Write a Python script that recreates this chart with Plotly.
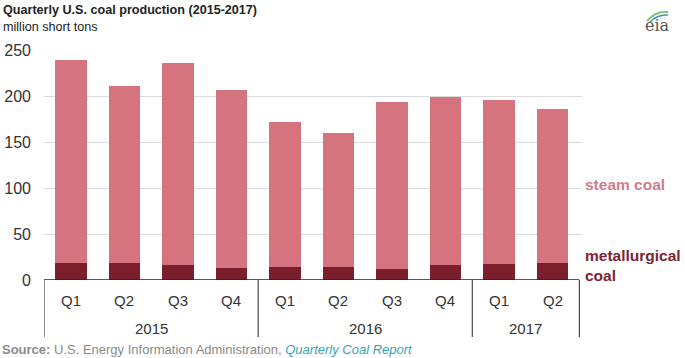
import plotly.graph_objects as go

quarters = ["Q1", "Q2", "Q3", "Q4", "Q1", "Q2", "Q3", "Q4", "Q1", "Q2"]
years = ["2015", "2016", "2017"]
year_counts = [4, 4, 2]
metallurgical = [18, 18, 16, 13, 14, 14, 12, 16, 17, 18]
steam = [221, 193, 220, 193, 158, 146, 182, 183, 179, 168]
y_ticks = [0, 50, 100, 150, 200, 250]

STEAM_C = "#d5737f"
MET_C = "#7c1f2d"
FONT = "Liberation Sans, Arial, sans-serif"

L, R, T, B = 44, 103, 50, 78
W, H = 685, 358
PW, PH = W - L - R, H - T - B

def px(x):
    return (x - L) / PW

def py(y):
    return (H - B - y) / PH

xs = list(range(len(quarters)))

fig = go.Figure()
fig.add_trace(go.Bar(x=xs, y=metallurgical, marker_color=MET_C, width=0.59,
                     name="metallurgical coal", marker_line_width=0))
fig.add_trace(go.Bar(x=xs, y=steam, marker_color=STEAM_C, width=0.59,
                     name="steam coal", marker_line_width=0))

annotations = []
shapes = []

# quarter labels
for i, q in enumerate(quarters):
    annotations.append(dict(x=i, y=0, xref="x", yref="paper", text=q, showarrow=False,
                            yanchor="middle", yshift=-20,
                            font=dict(family=FONT, size=15, color="#333")))
# year labels and dividers
start = 0
bounds = [-0.5]
for yr, n in zip(years, year_counts):
    center = start + (n - 1) / 2
    annotations.append(dict(x=center, y=0, xref="x", yref="paper", text=yr, showarrow=False,
                            yanchor="middle", yshift=-48,
                            font=dict(family=FONT, size=15, color="#333")))
    start += n
    bounds.append(start - 0.5)
for b in bounds:
    shapes.append(dict(type="line", xref="x", yref="paper", x0=b, x1=b, y0=0, y1=-57 / PH,
                       line=dict(color="#222", width=1)))
shapes.append(dict(type="line", xref="x", yref="y", x0=bounds[0], x1=bounds[-1], y0=0, y1=0,
                   line=dict(color="#222", width=1.3)))

# title
annotations.append(dict(x=px(1), y=py(10), xref="paper", yref="paper", xanchor="left", yanchor="middle",
                        text="<b>Quarterly U.S. coal production (2015-2017)</b>", showarrow=False,
                        font=dict(family=FONT, size=12.6, color="#222")))
annotations.append(dict(x=px(1), y=py(27), xref="paper", yref="paper", xanchor="left", yanchor="middle",
                        text="million short tons", showarrow=False,
                        font=dict(family=FONT, size=12.6, color="#222")))
# series labels
annotations.append(dict(x=px(583), y=104, xref="paper", yref="y", xanchor="left", yanchor="middle",
                        text="<b>steam coal</b>", showarrow=False,
                        font=dict(family=FONT, size=15.5, color="#cf7d8a")))
annotations.append(dict(x=px(583), y=16, xref="paper", yref="y", xanchor="left", yanchor="middle",
                        text="<b>metallurgical<br>coal</b>", showarrow=False, align="left",
                        font=dict(family=FONT, size=15.5, color="#7c2434")))
# source
annotations.append(dict(x=px(0), y=py(349), xref="paper", yref="paper", xanchor="left", yanchor="middle",
                        text="<b>Source:</b> U.S. Energy Information Administration, "
                             "<i><span style='color:#3b9fb0'>Quarterly Coal Report</span></i>",
                        showarrow=False, font=dict(family=FONT, size=13, color="#8a8a8a")))
# eia logo
annotations.append(dict(x=px(657), y=py(26), xref="paper", yref="paper", xanchor="center", yanchor="middle",
                        text="eia", showarrow=False,
                        font=dict(family="DejaVu Serif, serif", size=16, color="#555")))
shapes.append(dict(type="path", xref="paper", yref="paper",
                   path=f"M {px(647)},{py(21)} Q {px(655)},{py(11)} {px(668)},{py(12)}",
                   line=dict(color="#7cc67a", width=2)))
shapes.append(dict(type="path", xref="paper", yref="paper",
                   path=f"M {px(650)},{py(22)} Q {px(658)},{py(14)} {px(668)},{py(15)}",
                   line=dict(color="#3d8fc6", width=1.5)))

fig.update_layout(
    barmode="stack",
    width=W, height=H,
    margin=dict(l=L, r=R, t=T, b=B, autoexpand=False),
    paper_bgcolor="white", plot_bgcolor="white",
    showlegend=False,
    annotations=annotations,
    shapes=shapes,
    xaxis=dict(range=[-0.5, 9.55], showticklabels=False, showgrid=False, zeroline=False,
               showline=False, ticks="", automargin=False),
    yaxis=dict(range=[0, 250], tickvals=y_ticks, showgrid=True, gridcolor="#dcdcdc", gridwidth=1,
               zeroline=False, showline=False, ticklabelstandoff=12, automargin=False,
               tickfont=dict(family=FONT, size=16, color="#333")),
)

fig.write_html("out.html", config={"displayModeBar": False},
               post_script="document.body.style.margin='0';document.body.style.overflow='hidden';")
